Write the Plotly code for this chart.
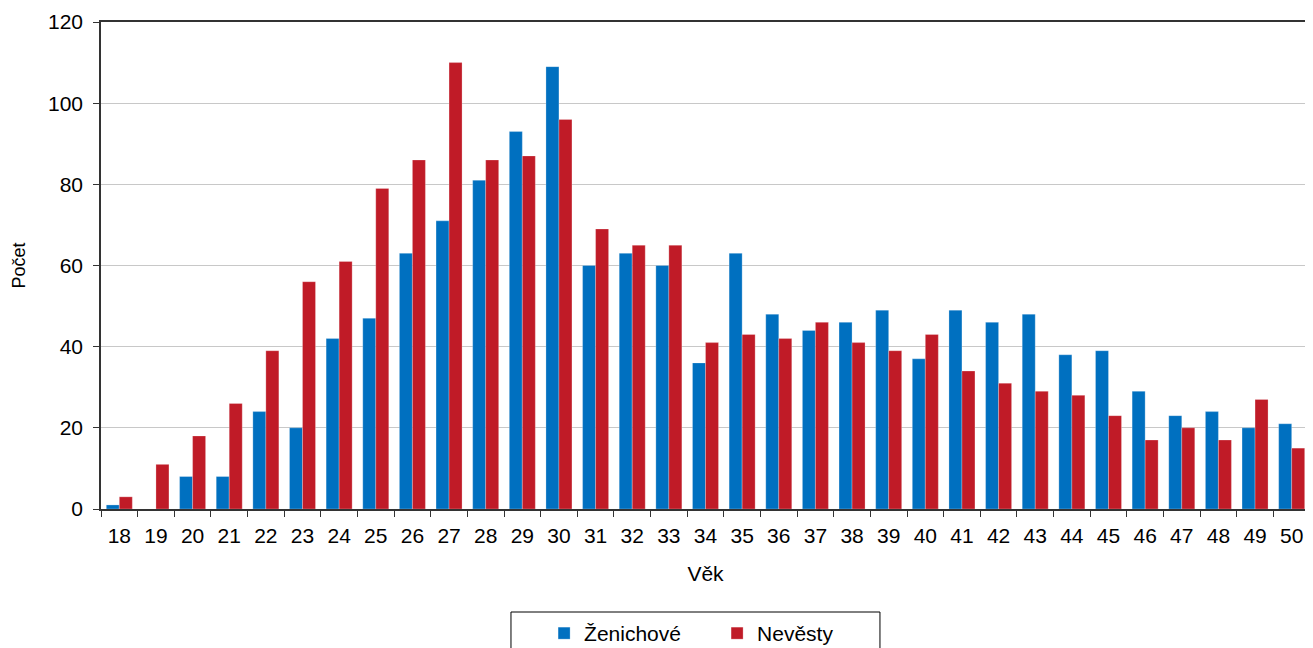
import plotly.graph_objects as go

ages = [str(a) for a in range(18, 51)]
zenichove = [1, 0, 8, 8, 24, 20, 42, 47, 63, 71, 81, 93, 109, 60, 63, 60, 36, 63, 48, 44,
             46, 49, 37, 49, 46, 48, 38, 39, 29, 23, 24, 20, 21]
nevesty = [3, 11, 18, 26, 39, 56, 61, 79, 86, 110, 86, 87, 96, 69, 65, 65, 41, 43, 42, 46,
           41, 39, 43, 34, 31, 29, 28, 23, 17, 20, 17, 27, 15]
y_ticks = [0, 20, 40, 60, 80, 100, 120]

FONT = "Liberation Sans, Arial, sans-serif"

fig = go.Figure()
fig.add_trace(go.Bar(x=ages, y=zenichove, name="Ženichové",
                     marker=dict(color="#0070C0", line=dict(color="rgba(255,255,255,0.5)", width=0.5))))
fig.add_trace(go.Bar(x=ages, y=nevesty, name="Nevěsty",
                     marker=dict(color="#C01B27", line=dict(color="rgba(255,255,255,0.5)", width=0.5))))

fig.update_layout(
    width=1305, height=640,
    margin=dict(l=93, r=3, t=14, b=139, autoexpand=False),
    paper_bgcolor="white", plot_bgcolor="white",
    font=dict(family=FONT, size=21, color="black"),
    barmode="group", bargap=0.29, bargroupgap=0,
    showlegend=True,
    legend=dict(orientation="h", xref="container", yref="container",
                x=0.4108, xanchor="left", y=0.0547, yanchor="top",
                bgcolor="rgba(0,0,0,0)",
                borderwidth=0, entrywidth=128, font=dict(size=21), itemwidth=30),
    shapes=[dict(type="rect", xref="paper", yref="paper", x0=0.3391, x1=0.6443,
                 y0=-0.2115, y1=-0.3265, line=dict(color="black", width=1),
                 fillcolor="rgba(0,0,0,0)", layer="above")],
)
fig.update_xaxes(
    type="category", tickson="boundaries", ticks="outside", ticklen=6, tickcolor="#333",
    showline=True, linecolor="#333", linewidth=1.5, mirror=True,
    tickfont=dict(size=21), ticklabelstandoff=7,
    title=dict(text="Věk", standoff=20, font=dict(size=21)), showgrid=False,
)
fig.update_yaxes(
    range=[0, 120], tickvals=y_ticks, ticks="outside", ticklen=6, tickcolor="#333",
    showline=True, linecolor="#333", linewidth=1.5, mirror=True,
    tickfont=dict(size=21), ticklabelstandoff=6,
    showgrid=True, gridcolor="#C8C8C8", gridwidth=1,
    title=dict(text="Počet", standoff=18, font=dict(size=18)), zeroline=False,
)

fig.write_html("out.html")
